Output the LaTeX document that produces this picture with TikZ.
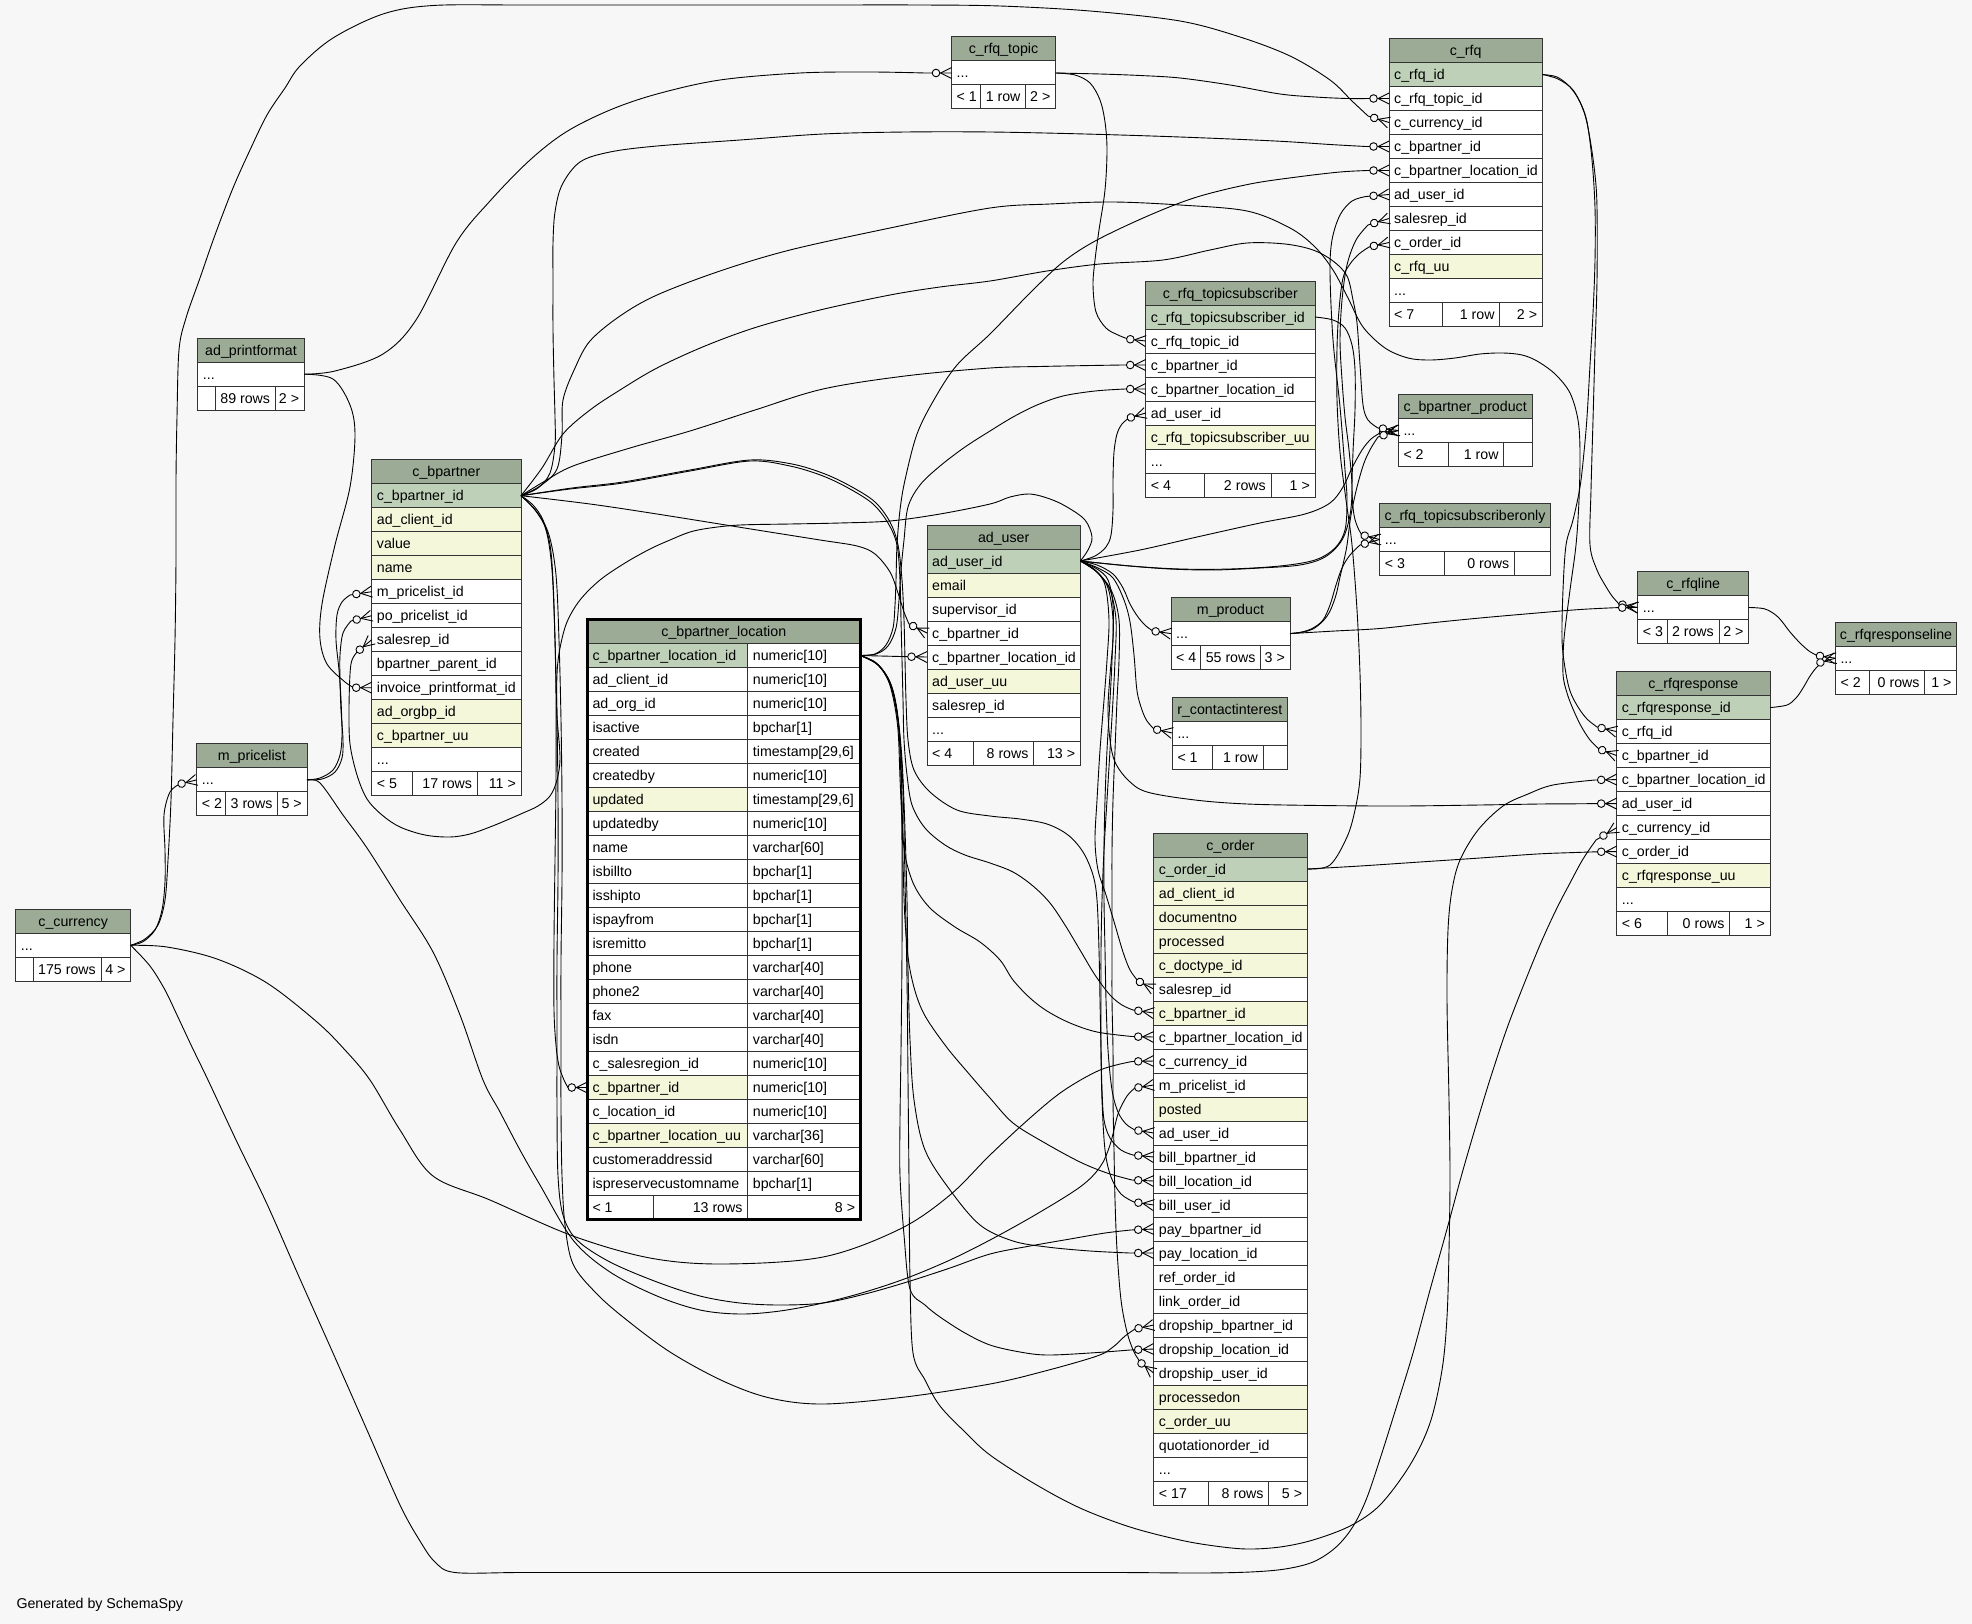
\documentclass[tikz,border=0pt]{standalone}
\usepackage{fontspec}
\setmainfont{Liberation Sans}
\usetikzlibrary{arrows.meta}
\definecolor{bgc}{HTML}{F7F7F7}
\definecolor{hdrc}{HTML}{9BAB96}
\definecolor{pkc}{HTML}{BED1B8}
\definecolor{idxc}{HTML}{F4F7DA}
\definecolor{cellline}{HTML}{333333}
\newcommand\cellfont{\fontsize{14.2}{17}\selectfont}
\newcommand\tdots{...}
\pgfdeclarearrow{
  name = Crow,
  setup code = {
    \pgfarrowssettipend{0pt}
    \pgfarrowssetlineend{0pt}
    \pgfarrowssetbackend{-19.5pt}
    \pgfarrowshullpoint{0pt}{6pt}
    \pgfarrowshullpoint{0pt}{-6pt}
    \pgfarrowshullpoint{-19.5pt}{4pt}
    \pgfarrowshullpoint{-19.5pt}{-4pt}
  },
  drawing code = {
    \pgfsetdash{}{0pt}
    \pgfsetlinewidth{0.9pt}
    \pgfpathmoveto{\pgfqpoint{0pt}{5.5pt}}
    \pgfpathlineto{\pgfqpoint{-11pt}{0pt}}
    \pgfpathlineto{\pgfqpoint{0pt}{-5.5pt}}
    \pgfusepathqstroke
    \pgfpathcircle{\pgfqpoint{-15.5pt}{0pt}}{3.8pt}
    \pgfsetfillcolor{bgc}
    \pgfusepathqfillstroke
  }
}
\tikzset{
  cellbox/.style={draw=cellline, line width=1pt, anchor=north west, minimum height=24pt, inner sep=0pt, outer sep=0pt},
  ctext/.style={anchor=base west, inner sep=0pt, font=\cellfont},
  ctextr/.style={anchor=base east, inner sep=0pt, font=\cellfont},
  ctextc/.style={anchor=base, inner sep=0pt, font=\cellfont},
  conn/.style={draw=black, line width=0.9pt, -Crow},
}
\newcommand\tblhead[5]{%
  \node[cellbox, fill=hdrc, minimum width=#4] (#1-h) at (#2,#3) {};
  \node[ctextc] (#1-ht) at ([yshift=-5pt]#1-h.center) {#5};
}
\newcommand\tblrows[5]{%
  \foreach \fc/\txt [count=\i] in {#5} {
    \node[cellbox, fill=\fc, minimum width=#4] (#1-\i) at (#2,#3+24*\i) {};
    \node[ctext] (#1-\i-t) at ([xshift=5pt,yshift=-5pt]#1-\i.west) {\txt};
  }
}
\newcommand\tblfoot[9]{%
  \node[cellbox, fill=white, minimum width=#4] (#1-fa) at (#2,#3) {};
  \node[cellbox, fill=white, minimum width=#5] (#1-fb) at (#1-fa.north east) {};
  \node[cellbox, fill=white, minimum width=#6] (#1-fc) at (#1-fb.north east) {};
  \node[ctext] (#1-fat) at ([xshift=5pt,yshift=-5pt]#1-fa.west) {#7};
  \node[ctextr] (#1-fbt) at ([xshift=-5pt,yshift=-5pt]#1-fb.east) {#8};
  \node[ctextr] (#1-fct) at ([xshift=-5pt,yshift=-5pt]#1-fc.east) {#9};
}
\newcommand\edge[2]{\draw[conn] plot[smooth, tension=0.55] coordinates {#1} -- (#2);}
\begin{document}
\begin{tikzpicture}[x=1pt,y=-1pt]
\fill[bgc] (0,0) rectangle (1972,1624);
\useasboundingbox (0,0) rectangle (1972,1624);

\tblhead{tp}{951.5}{37}{104}{c\_rfq\_topic}
\tblrows{tp}{951.5}{37}{104}{white/\tdots}
\tblfoot{tp}{951.5}{85}{29.2}{45}{29.8}{< 1}{1 row}{2 >}

\tblhead{rfq}{1389}{38.5}{153.3}{c\_rfq}
\tblrows{rfq}{1389}{38.5}{153.3}{pkc/c\_rfq\_id,white/c\_rfq\_topic\_id,white/c\_currency\_id,white/c\_bpartner\_id,white/c\_bpartner\_location\_id,white/ad\_user\_id,white/salesrep\_id,white/c\_order\_id,idxc/c\_rfq\_uu,white/\tdots}
\tblfoot{rfq}{1389}{302.5}{53.7}{57}{42.6}{< 7}{1 row}{2 >}

\tblhead{tsub}{1145.7}{281}{169.3}{c\_rfq\_topicsubscriber}
\tblrows{tsub}{1145.7}{281}{169.3}{pkc/c\_rfq\_topicsubscriber\_id,white/c\_rfq\_topic\_id,white/c\_bpartner\_id,white/c\_bpartner\_location\_id,white/ad\_user\_id,idxc/c\_rfq\_topicsubscriber\_uu,white/\tdots}
\tblfoot{tsub}{1145.7}{473}{58.6}{66.7}{44}{< 4}{2 rows}{1 >}

\tblhead{bprod}{1398.3}{394.5}{133.7}{c\_bpartner\_product}
\tblrows{bprod}{1398.3}{394.5}{133.7}{white/\tdots}
\tblfoot{bprod}{1398.3}{442.5}{49.7}{55.7}{28.3}{< 2}{1 row}{}

\tblhead{tsubo}{1379.7}{503.5}{170.6}{c\_rfq\_topicsubscriberonly}
\tblrows{tsubo}{1379.7}{503.5}{170.6}{white/\tdots}
\tblfoot{tsubo}{1379.7}{551.5}{65}{69.6}{36}{< 3}{0 rows}{}

\tblhead{rl}{1637.7}{571.5}{111}{c\_rfqline}
\tblrows{rl}{1637.7}{571.5}{111}{white/\tdots}
\tblfoot{rl}{1637.7}{619.5}{29.6}{51.7}{29.7}{< 3}{2 rows}{2 >}

\tblhead{rsl}{1835.3}{622.2}{121.4}{c\_rfqresponseline}
\tblrows{rsl}{1835.3}{622.2}{121.4}{white/\tdots}
\tblfoot{rsl}{1835.3}{670.2}{34.4}{55}{32}{< 2}{0 rows}{1 >}

\tblhead{rsp}{1616.7}{671.6}{153.3}{c\_rfqresponse}
\tblrows{rsp}{1616.7}{671.6}{153.3}{pkc/c\_rfqresponse\_id,white/c\_rfq\_id,white/c\_bpartner\_id,white/c\_bpartner\_location\_id,white/ad\_user\_id,white/c\_currency\_id,white/c\_order\_id,idxc/c\_rfqresponse\_uu,white/\tdots}
\tblfoot{rsp}{1616.7}{911.6}{50.6}{62.4}{40.3}{< 6}{0 rows}{1 >}

\tblhead{au}{927}{525}{153.3}{ad\_user}
\tblrows{au}{927}{525}{153.3}{pkc/ad\_user\_id,idxc/email,white/supervisor\_id,white/c\_bpartner\_id,white/c\_bpartner\_location\_id,idxc/ad\_user\_uu,white/salesrep\_id,white/\tdots}
\tblfoot{au}{927}{741}{46.3}{60.4}{46.6}{< 4}{8 rows}{13 >}

\tblhead{mp}{1171}{597.6}{119}{m\_product}
\tblrows{mp}{1171}{597.6}{119}{white/\tdots}
\tblfoot{mp}{1171}{645.6}{29.3}{60.4}{29.3}{< 4}{55 rows}{3 >}

\tblhead{rci}{1172.3}{697}{115}{r\_contactinterest}
\tblrows{rci}{1172.3}{697}{115}{white/\tdots}
\tblfoot{rci}{1172.3}{745}{40.4}{50.3}{24.3}{< 1}{1 row}{}

\tblhead{ord}{1153.7}{833}{153.6}{c\_order}
\tblrows{ord}{1153.7}{833}{153.6}{pkc/c\_order\_id,idxc/ad\_client\_id,idxc/documentno,idxc/processed,idxc/c\_doctype\_id,white/salesrep\_id,idxc/c\_bpartner\_id,white/c\_bpartner\_location\_id,white/c\_currency\_id,white/m\_pricelist\_id,idxc/posted,white/ad\_user\_id,white/bill\_bpartner\_id,white/bill\_location\_id,white/bill\_user\_id,white/pay\_bpartner\_id,white/pay\_location\_id,white/ref\_order\_id,white/link\_order\_id,white/dropship\_bpartner\_id,white/dropship\_location\_id,white/dropship\_user\_id,idxc/processedon,idxc/c\_order\_uu,white/quotationorder\_id,white/\tdots}
\tblfoot{ord}{1153.7}{1481}{55}{60}{38.6}{< 17}{8 rows}{5 >}

\tblhead{bp}{371.7}{459.7}{149.3}{c\_bpartner}
\tblrows{bp}{371.7}{459.7}{149.3}{pkc/c\_bpartner\_id,idxc/ad\_client\_id,idxc/value,idxc/name,white/m\_pricelist\_id,white/po\_pricelist\_id,white/salesrep\_id,white/bpartner\_parent\_id,white/invoice\_printformat\_id,idxc/ad\_orgbp\_id,idxc/c\_bpartner\_uu,white/\tdots}
\tblfoot{bp}{371.7}{771.7}{40.3}{65.3}{43.7}{< 5}{17 rows}{11 >}

\tblhead{apf}{197.7}{338.2}{106.6}{ad\_printformat}
\tblrows{apf}{197.7}{338.2}{106.6}{white/\tdots}
\tblfoot{apf}{197.7}{386.2}{17.6}{60}{29}{}{89 rows}{2 >}

\tblhead{mpl}{196.7}{743.9}{110.3}{m\_pricelist}
\tblrows{mpl}{196.7}{743.9}{110.3}{white/\tdots}
\tblfoot{mpl}{196.7}{791.9}{29}{52}{29.3}{< 2}{3 rows}{5 >}

\tblhead{cur}{15.7}{909.3}{115}{c\_currency}
\tblrows{cur}{15.7}{909.3}{115}{white/\tdots}
\tblfoot{cur}{15.7}{957.3}{17.6}{67.7}{29.7}{}{175 rows}{4 >}

\tblhead{cbl}{587.3}{619.5}{273}{c\_bpartner\_location}
\foreach \fc/\txt/\typ [count=\i] in {pkc/c\_bpartner\_location\_id/numeric[10],white/ad\_client\_id/numeric[10],white/ad\_org\_id/numeric[10],white/isactive/bpchar[1],white/created/{timestamp[29,6]},white/createdby/numeric[10],idxc/updated/{timestamp[29,6]},white/updatedby/numeric[10],white/name/varchar[60],white/isbillto/bpchar[1],white/isshipto/bpchar[1],white/ispayfrom/bpchar[1],white/isremitto/bpchar[1],white/phone/varchar[40],white/phone2/varchar[40],white/fax/varchar[40],white/isdn/varchar[40],white/c\_salesregion\_id/numeric[10],idxc/c\_bpartner\_id/numeric[10],white/c\_location\_id/numeric[10],idxc/c\_bpartner\_location\_uu/varchar[36],white/customeraddressid/varchar[60],white/ispreservecustomname/bpchar[1]} {
  \node[cellbox, fill=\fc, minimum width=160.4] (cbl-\i) at (587.3,619.5+24*\i) {};
  \node[cellbox, fill=white, minimum width=112.6] (cbl-\i-b) at (747.7,619.5+24*\i) {};
  \node[ctext] (cbl-\i-t) at ([xshift=5pt,yshift=-5pt]cbl-\i.west) {\txt};
  \node[ctext] (cbl-\i-u) at ([xshift=5pt,yshift=-5pt]cbl-\i-b.west) {\typ};
}
\tblfoot{cbl}{587.3}{1195.5}{65.7}{94.7}{112.6}{< 1}{13 rows}{8 >}
\draw[line width=2.8pt, draw=black] (587.3,619.5) rectangle (860.3,1219.5);

% ---------------- connectors ----------------
% ad_printformat
\edge{(apf-1.east) (335,371) (383,354) (416,320) (456,243) (490,201) (530,160) (566,132) (610,110) (657,94) (720,80) (800,73) (870,72) (925,73)}{tp-1.west}
\edge{(apf-1.east) (333,379) (350,405) (355,435) (350,487) (335,545) (322,604) (320,639) (327,664) (345,682) (354,687.7)}{bp-9.west}
% c_currency
\edge{(cur-1.east) (143,941.7) (155,930) (162,910) (165,882) (165,850) (164,815) (170,792) (180,784)}{mpl-1.west}
\edge{(cur-1.east) (145,939) (158,925) (165,900) (168,860) (171,800) (173,720) (175,640) (176,560) (176,480) (177,417) (179,350) (186,318) (200,278) (215,235) (233,188) (250,150) (267,115) (285,88) (300,66) (333,38) (383,14) (433,5.5) (520,5) (620,5) (720,5) (820,5) (920,5) (1000,6) (1090,11) (1180,21) (1240,37) (1290,56) (1330,80) (1352,101) (1368,116)}{rfq-3.west}
\edge{(cur-1.east) (167,947) (217,959) (267,983) (317,1022) (345,1050) (370,1080) (400,1130) (433,1176) (490,1200) (573,1236) (650,1258) (723,1264) (823,1257) (900,1229) (950,1195) (990,1155) (1030,1118) (1063,1091) (1100,1070) (1132,1061.5)}{ord-9.west}
\edge{(cur-1.east) (150,966) (165,990) (177,1015) (192,1047) (208,1080) (237,1142) (267,1204) (300,1279) (333,1353) (367,1430) (400,1505) (420,1541) (435,1562) (455,1572.5) (520,1572.5) (620,1572.5) (720,1572.5) (820,1572.5) (920,1572.5) (1020,1572.5) (1120,1572.5) (1200,1573) (1250,1572) (1285,1569) (1313,1562) (1335,1548) (1352,1528) (1366,1500) (1380,1459) (1397,1405) (1413,1353) (1430,1290) (1447,1229) (1463,1170) (1480,1112) (1493,1070) (1510,1020) (1537,952) (1555,912) (1570,883) (1583,859) (1596,840)}{rsp-6.west}
% m_pricelist
\edge{(mpl-1.east) (320,778) (333,770) (340,755) (342,735) (341,700) (339,670) (336,640) (337,615) (342,602) (350,595)}{bp-5.west}
\edge{(mpl-1.east) (322,779) (335,772) (342,758) (343,740) (341,710) (340,680) (340,655) (343,633) (351,621)}{bp-6.west}
\edge{(mpl-1.east) (320,783) (343,815) (367,848) (400,900) (433,952) (460,1015) (483,1080) (500,1112) (520,1150) (540,1185) (573,1240) (610,1272) (657,1296) (700,1310) (740,1314) (780,1311) (823,1303) (865,1292) (907,1278) (950,1260) (990,1240) (1035,1215) (1080,1187) (1100,1167) (1110,1145) (1118,1114) (1127,1096) (1135,1088)}{ord-10.west}
% ad_user
\edge{(au-1.east) (1088,550) (1092,537) (1085,520) (1067,507) (1050,499) (1030,494) (1010,497) (990,504) (940,514) (890,521) (840,523) (790,524) (740,525) (710,528) (690,532) (670,540) (650,549) (625,563) (600,580) (580,600) (567,622) (560,648) (557,674) (557,715) (560,757) (557,780) (550,796) (538,806) (523,813) (507,820) (490,827) (470,834) (450,837) (425,835) (400,827) (382,815) (367,799) (357,775) (350,744) (349,710) (350,674) (352,660) (357,652)}{bp-7.west}
\edge{(au-1.east) (1095,556) (1106,547) (1111,535) (1113,510) (1113,480) (1114,452) (1117,434) (1122,424) (1129,418)}{tsub-5.west}
\edge{(au-1.east) (1140,550) (1197,537) (1260,523) (1305,514) (1330,503) (1343,487) (1352,468) (1362,450) (1371,439) (1380,433)}{bprod-1.west}
\edge{(au-1.east) (1130,566) (1180,569) (1230,569) (1280,566) (1315,560) (1335,548) (1345,530) (1347,500) (1345,470) (1340,407) (1333,340) (1330,273) (1332,240) (1340,215) (1352,201) (1366,196.5)}{rfq-6.west}
\edge{(au-1.east) (1130,566) (1170,569) (1213,570) (1260,568) (1300,565) (1325,557) (1342,540) (1350,515) (1352,486) (1349,450) (1345,417) (1342,380) (1340,340) (1342,300) (1347,265) (1356,240) (1368,225)}{rfq-7.west}
\edge{(au-1.east) (1097,565) (1113,574) (1123,588) (1130,604) (1138,617) (1146,626) (1153,631)}{mp-1.west}
\edge{(au-1.east) (1098,568) (1113,578) (1124,600) (1130,622) (1134,655) (1137,691) (1142,710) (1147,721) (1154,729)}{rci-1.west}
\edge{(au-1.east) (1097,569) (1108,580) (1113,605) (1113,639) (1110,675) (1108,709) (1110,740) (1115,762) (1128,780) (1147,792) (1195,800) (1247,804) (1320,805.5) (1400,806) (1480,805) (1540,804) (1575,803.8) (1595,803.6)}{rsp-5.west}
\edge{(au-1.east) (1095,570) (1105,585) (1109,620) (1107,660) (1104,700) (1100,750) (1097,800) (1095,840) (1098,870) (1106,895) (1115,925) (1123,952) (1130,970) (1138,981)}{ord-6.west}
\edge{(au-1.east) (1096,571) (1108,588) (1113,620) (1112,660) (1110,700) (1107,750) (1105,800) (1104,850) (1104,900) (1105,950) (1106,1000) (1108,1050) (1112,1090) (1118,1112) (1126,1124) (1135,1130)}{ord-12.west}
\edge{(au-1.east) (1097,572) (1110,590) (1116,620) (1115,660) (1113,700) (1110,750) (1107,800) (1104,850) (1102,900) (1101,950) (1101,1000) (1101,1050) (1102,1100) (1105,1150) (1111,1177) (1121,1194) (1134,1202)}{ord-15.west}
\edge{(au-1.east) (1098,573) (1112,592) (1119,620) (1119,660) (1117,700) (1115,750) (1113,800) (1112,850) (1112,900) (1112,950) (1112,1000) (1113,1050) (1113,1100) (1114,1150) (1115,1200) (1117,1250) (1121,1300) (1127,1332) (1134,1352) (1141,1363)}{ord-22.west}
% c_bpartner
\edge{(bp-1.east) (538,488) (550,473) (555,445) (555,417) (554,380) (553,330) (553,280) (553,243) (555,212) (562,185) (580,162) (610,152) (657,146) (740,140) (823,134) (906,132) (990,132) (1085,134) (1180,137) (1275,141) (1330,144.5) (1366,146.5)}{rfq-4.west}
\edge{(bp-1.east) (540,486) (557,469) (562,435) (563,400) (575,368) (590,341) (620,316) (657,295) (720,271) (790,250) (890,228) (990,208) (1050,204) (1113,202) (1180,205) (1247,211) (1290,228) (1315,247) (1333,270) (1348,298) (1363,327) (1385,348) (1408,358) (1430,360) (1455,358) (1480,354) (1503,353) (1522,355) (1537,361) (1555,374) (1570,393) (1578,420) (1580,452) (1579,500) (1576,545) (1570,590) (1564,639) (1563,674) (1567,693) (1573,709) (1581,726) (1590,740) (1599,749)}{rsp-3.west}
\edge{(bp-1.east) (542,468) (563,434) (590,410) (620,390) (657,368) (705,346) (757,327) (820,310) (890,295) (940,287) (990,281) (1047,271) (1100,264) (1163,260) (1210,250) (1247,243) (1285,244) (1313,250) (1333,261) (1347,276) (1353,300) (1357,323) (1360,365) (1363,405) (1368,420) (1378,428)}{bprod-1.west}
\edge{(bp-1.east) (545,481) (573,466) (630,448) (690,431) (755,410) (823,389) (905,376) (990,368) (1040,366.5) (1080,365.7) (1122,365)}{tsub-3.west}
\edge{(bp-1.east) (590,504) (657,514) (757,530) (820,540) (857,546) (875,554) (890,572) (898,593) (904,612) (909,624)}{au-4.west}
\edge{(bp-1.east) (533,505) (543,520) (550,545) (553,580) (555,640) (556,700) (556,780) (555,860) (554,940) (554,1010) (556,1045) (559,1066) (564,1080) (568,1087.5)}{cbl-19.west}
\edge{(bp-1.east) (570,489) (623,483) (690,471) (750,461) (790,466) (823,476) (850,489) (873,504) (888,523) (897,545) (900,580) (901,620) (902,660) (903,700) (904,740) (907,775) (912,805) (925,828) (945,845) (965,855) (990,863) (1013,872) (1033,886) (1050,903) (1065,925) (1080,950) (1095,975) (1110,995) (1122,1005) (1133,1010)}{ord-7.west}
\edge{(bp-1.east) (572,488) (623,482) (690,470) (750,460) (792,464) (825,474) (852,487) (875,502) (890,522) (898,545) (902,580) (904,620) (905,660) (906,700) (908,740) (914,770) (930,792) (957,810) (990,816) (1020,819) (1047,824) (1068,835) (1083,852) (1093,875) (1097,900) (1099,950) (1100,1000) (1101,1050) (1102,1090) (1104,1120) (1110,1138) (1121,1150) (1133,1155)}{ord-13.west}
\edge{(bp-1.east) (535,510) (546,530) (552,570) (555,640) (557,720) (558,800) (558,880) (557,960) (557,1040) (557,1110) (558,1176) (563,1215) (577,1240) (610,1262) (657,1282) (700,1296) (740,1303) (780,1305) (823,1303) (865,1294) (907,1282) (950,1268) (990,1254) (1030,1246) (1070,1239) (1105,1233) (1131,1230)}{ord-16.west}
\edge{(bp-1.east) (537,512) (549,535) (556,575) (559,640) (561,720) (562,800) (562,880) (561,960) (561,1040) (561,1110) (562,1176) (565,1225) (573,1264) (595,1292) (623,1317) (670,1352) (723,1381) (770,1398) (823,1404) (905,1397) (990,1384) (1045,1371) (1097,1356) (1113,1347) (1125,1336) (1135,1329)}{ord-20.west}
% c_bpartner_location
\edge{(cbl-1-b.east) (880,656) (905,656.6)}{au-5.west}
\edge{(cbl-1-b.east) (875,654) (886,645) (893,628) (895,605) (896,580) (897,545) (900,510) (905,480) (917,434) (935,398) (957,365) (990,334) (1030,293) (1063,262) (1097,240) (1150,215) (1197,197) (1250,184) (1297,177) (1340,172) (1368,170.5)}{rfq-5.west}
\edge{(cbl-1-b.east) (876,654) (888,646) (896,628) (899,600) (901,570) (904,540) (908,507) (920,485) (940,466) (965,447) (990,431) (1013,417) (1037,405) (1063,396) (1095,391) (1125,389)}{tsub-4.west}
\edge{(cbl-1-b.east) (875,662) (886,675) (893,697) (898,730) (900,778) (902,820) (905,855) (914,885) (930,908) (955,927) (980,942) (1000,960) (1013,980) (1030,998) (1047,1011) (1070,1023) (1097,1032) (1132,1036.5)}{ord-8.west}
\edge{(cbl-1-b.east) (876,663) (888,678) (895,700) (900,740) (902,800) (903,860) (905,920) (910,970) (922,1010) (945,1045) (970,1075) (990,1098) (1013,1123) (1045,1143) (1080,1162) (1107,1173) (1132,1180)}{ord-14.west}
\edge{(cbl-1-b.east) (877,664) (890,682) (897,710) (902,760) (905,830) (907,900) (908,970) (910,1040) (914,1100) (925,1150) (950,1190) (980,1225) (1013,1241) (1047,1247) (1090,1251) (1130,1253)}{ord-17.west}
\edge{(cbl-1-b.east) (878,665) (891,686) (898,720) (901,780) (902,850) (902,950) (901,1050) (900,1120) (900,1176) (904,1235) (910,1289) (925,1305) (940,1317) (965,1333) (990,1345) (1020,1352) (1047,1355) (1090,1353) (1130,1350)}{ord-21.west}
\edge{(cbl-1-b.east) (879,666) (892,690) (899,730) (903,790) (905,880) (907,980) (908,1080) (909,1180) (910,1280) (913,1353) (925,1380) (940,1406) (965,1432) (990,1455) (1035,1484) (1080,1508) (1130,1527) (1180,1540) (1215,1546) (1247,1549) (1280,1547) (1313,1540) (1350,1526) (1380,1505) (1410,1465) (1430,1423) (1442,1370) (1447,1317) (1449,1250) (1450,1176) (1449,1100) (1447,1000) (1448,930) (1452,890) (1460,860) (1478,830) (1503,806) (1528,794) (1553,785) (1595,780)}{rsp-4.west}
% c_rfq_topic
\edge{(tp-1.east) (1100,74) (1140,75.5) (1180,78) (1230,85) (1280,94) (1315,97) (1347,98.5) (1369,98.5)}{rfq-2.west}
\edge{(tp-1.east) (1075,75) (1090,83) (1100,100) (1105,122) (1107,150) (1105,190) (1099,230) (1095,260) (1093,285) (1096,312) (1106,328) (1118,335) (1128,339)}{tsub-2.west}
% c_order
\edge{(ord-1.east) (1330,865) (1347,837) (1355,810) (1360,778) (1361,730) (1360,674) (1357,610) (1352,545) (1346,500) (1340,452) (1337,400) (1337,348) (1339,310) (1343,278) (1350,264) (1359,254) (1369,247)}{rfq-8.west}
\edge{(ord-1.east) (1360,866) (1420,862) (1480,858) (1537,854) (1575,852.5) (1597,851.8)}{rsp-7.west}
% c_rfq
\edge{(rfq-1.east) (1557,77) (1570,87) (1580,102) (1587,122) (1592,160) (1595,208) (1595,260) (1593,313) (1590,365) (1587,417) (1584,452) (1580,487) (1573,520) (1566,545) (1563,590) (1562,639) (1565,668) (1570,691) (1578,707) (1587,719) (1597,727)}{rsp-2.west}
\edge{(rfq-1.east) (1558,79) (1573,90) (1584,112) (1590,139) (1595,175) (1597,208) (1597,280) (1595,348) (1593,420) (1591,490) (1590,545) (1597,570) (1605,585) (1612,596) (1619,604)}{rl-1.west}
% m_product
\edge{(mp-1.east) (1335,631) (1380,628.5) (1430,623) (1480,618) (1537,613) (1580,609.5) (1615,607.7)}{rl-1.west}
\edge{(mp-1.east) (1303,632) (1313,629) (1323,621) (1330,611) (1336,595) (1340,577) (1344,560) (1347,545) (1351,515) (1357,487) (1364,463) (1371,448) (1378,437)}{bprod-1.west}
\edge{(mp-1.east) (1302,632) (1313,628) (1323,620) (1330,605) (1336,585) (1342,568) (1350,555) (1360,545)}{tsubo-1.west}
% c_rfq_topicsubscriber
\edge{(tsub-1.east) (1333,320) (1345,328) (1352,345) (1355,370) (1355,410) (1353,452) (1352,490) (1354,515) (1358,528) (1362,535)}{tsubo-1.west}
% c_rfqline, c_rfqresponse
\edge{(rl-1.east) (1765,609) (1778,617) (1790,632) (1800,643) (1809,651) (1817,655.5)}{rsl-1.west}
\edge{(rsp-1.east) (1787,705) (1796,698) (1803,688) (1810,676) (1816,668) (1822,662)}{rsl-1.west}

\node[ctext] (gen) at (16.3,1608.5) {Generated by SchemaSpy};
\end{tikzpicture}
\end{document}
